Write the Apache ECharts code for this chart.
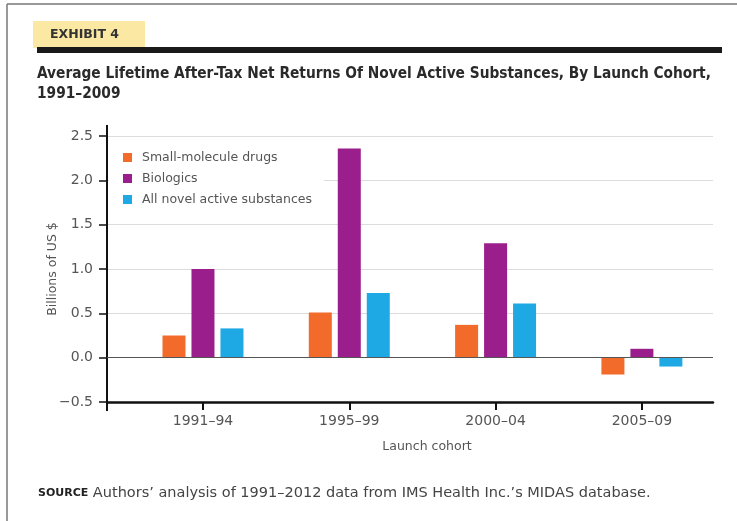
<!DOCTYPE html>
<html>
<head>
<meta charset="utf-8">
<script src="https://cdn.jsdelivr.net/npm/echarts@6/dist/echarts.min.js"></script>
<style>
  html, body { margin: 0; padding: 0; background: #fff; }
  #chart { width: 737px; height: 521px; }
</style>
</head>
<body>
<div id="chart"></div>
<script>
// launch cohorts and returns (billions of US $)
const cohorts = ['1991–94', '1995–99', '2000–04', '2005–09']
const smallMolecule = [0.25, 0.51, 0.37, -0.19]
const biologics = [1.0, 2.36, 1.29, 0.1]
const allNAS = [0.33, 0.73, 0.61, -0.1]
const seriesNames = ['Small-molecule drugs', 'Biologics', 'All novel active substances']
const colors = ['#F26B2A', '#9A1E8C', '#1EA8E4']

const font = 'DejaVu Sans'
const narrow = 'DejaVu Sans Condensed'
const ink = '#555'

// bars sit on a value axis so the category centres can be placed off the y axis
const toPairs = arr => arr.map((v, i) => [i, v])

const chart = echarts.init(document.getElementById('chart'))

chart.setOption({
  animation: false,
  color: colors,
  textStyle: { fontFamily: font },
  grid: { left: 107, right: 24, top: 136, bottom: 119 },
  legend: {
    orient: 'vertical',
    left: 109,
    top: 143,
    padding: [8, 12, 8, 14],
    backgroundColor: '#fff',
    itemWidth: 9,
    itemHeight: 9,
    itemGap: 8,
    icon: 'rect',
    textStyle: { fontFamily: font, fontSize: 12.5, color: ink, padding: [0, 0, 0, 5] },
    data: seriesNames
  },
  xAxis: {
    type: 'value',
    min: -0.656,
    max: 3.486,
    name: 'Launch cohort',
    nameLocation: 'middle',
    nameGap: 38,
    nameTextStyle: { fontFamily: font, fontSize: 12.5, color: ink, padding: [0, 0, 0, 34] },
    axisLine: { show: true, onZero: false, lineStyle: { color: '#111', width: 2.5 } },
    axisTick: { show: true, customValues: [0, 1, 2, 3], length: 8, lineStyle: { color: '#111', width: 2 } },
    axisLabel: {
      customValues: [0, 1, 2, 3],
      formatter: v => cohorts[Math.round(v)],
      margin: 12,
      fontFamily: font,
      fontSize: 14,
      color: ink
    },
    splitLine: { show: false }
  },
  yAxis: {
    type: 'value',
    min: -0.5,
    max: 2.5,
    interval: 0.5,
    name: 'Billions of US $',
    nameLocation: 'middle',
    nameGap: 48,
    nameMoveOverlap: false,
    nameTextStyle: { fontFamily: font, fontSize: 12.5, color: ink },
    axisLine: { show: true, onZero: false, lineStyle: { color: '#111', width: 2 } },
    axisTick: { show: true, length: 8, lineStyle: { color: '#111', width: 1.5 } },
    axisLabel: {
      formatter: v => v.toFixed(1).replace('-', '−'),
      margin: 14,
      padding: [0, 0, 10, 0],
      fontFamily: font,
      fontSize: 14,
      color: ink
    },
    splitLine: { lineStyle: { color: '#dcdcdc', width: 1 } }
  },
  series: [
    {
      name: seriesNames[0],
      type: 'bar',
      barWidth: 23,
      barGap: '26%',
      data: toPairs(smallMolecule),
      markLine: {
        silent: true,
        symbol: ['none', 'none'],
        label: { show: false },
        lineStyle: { color: '#555', width: 1, type: 'solid' },
        data: [{ yAxis: 0 }]
      }
    },
    {
      name: seriesNames[1],
      type: 'bar',
      barWidth: 23,
      barGap: '26%',
      data: toPairs(biologics)
    },
    {
      name: seriesNames[2],
      type: 'bar',
      barWidth: 23,
      barGap: '26%',
      data: toPairs(allNAS)
    }
  ],
  graphic: [
    // page frame
    { type: 'line', shape: { x1: 7, y1: 4, x2: 737, y2: 4 }, style: { stroke: '#777', lineWidth: 1.5 } },
    { type: 'line', shape: { x1: 7, y1: 4, x2: 7, y2: 521 }, style: { stroke: '#777', lineWidth: 1.5 } },
    // exhibit badge and rule
    { type: 'rect', shape: { x: 33, y: 21, width: 112, height: 27 }, style: { fill: '#FBE8A2' } },
    {
      type: 'text', left: 50, top: 28,
      style: { text: 'EXHIBIT 4', fontFamily: font, fontWeight: 'bold', fontSize: 12.5, fill: '#333' }
    },
    { type: 'rect', shape: { x: 37, y: 47, width: 685, height: 6 }, style: { fill: '#1a1a1a' } },
    {
      type: 'text', left: 37, top: 64,
      style: {
        text: 'Average Lifetime After-Tax Net Returns Of Novel Active Substances, By Launch Cohort,\n1991–2009',
        fontFamily: narrow, fontWeight: 'bold', fontSize: 15.3, lineHeight: 20, fill: '#2a2a2a'
      }
    },
    // y axis overhangs
    { type: 'line', shape: { x1: 107, y1: 125, x2: 107, y2: 136 }, style: { stroke: '#111', lineWidth: 2 } },
    { type: 'line', shape: { x1: 107, y1: 402, x2: 107, y2: 411 }, style: { stroke: '#111', lineWidth: 2 } },
    {
      type: 'text', left: 38, top: 486,
      style: {
        text: '{b|SOURCE} Authors’ analysis of 1991–2012 data from IMS Health Inc.’s MIDAS database.',
        fontFamily: font, fontSize: 14.5, fill: '#444',
        rich: { b: { fontFamily: font, fontWeight: 'bold', fontSize: 11, fill: '#222' } }
      }
    }
  ]
})
</script>
</body>
</html>
